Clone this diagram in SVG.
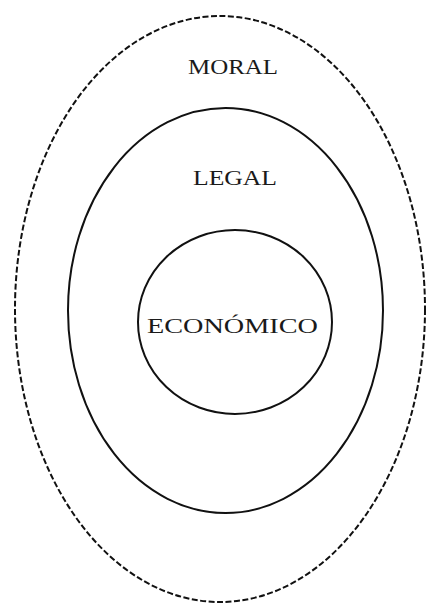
<svg xmlns="http://www.w3.org/2000/svg" width="430" height="608" viewBox="0 0 430 608">
<style>
.ring{fill:none;stroke:#111;stroke-width:2}
.dash{stroke-dasharray:6 2.5}
.lbl{font-family:"Liberation Serif","Times New Roman",serif;font-size:22px;fill:#1a1a1a;text-anchor:middle}
</style>
<rect width="430" height="608" fill="#fff"/>
<g id="moral">
<ellipse class="ring dash" cx="220" cy="309" rx="205" ry="293"/>
<text class="lbl" x="233" y="74" textLength="90" lengthAdjust="spacingAndGlyphs">MORAL</text>
</g>
<g id="legal">
<ellipse class="ring" cx="225.5" cy="310.5" rx="157.5" ry="202.5"/>
<text class="lbl" x="235" y="185" textLength="84" lengthAdjust="spacingAndGlyphs">LEGAL</text>
</g>
<g id="economico">
<ellipse class="ring" cx="235" cy="322" rx="97" ry="92"/>
<text class="lbl" x="232.5" y="333" textLength="171" lengthAdjust="spacingAndGlyphs">ECONÓMICO</text>
</g>
<g id="connectors"></g>
</svg>
